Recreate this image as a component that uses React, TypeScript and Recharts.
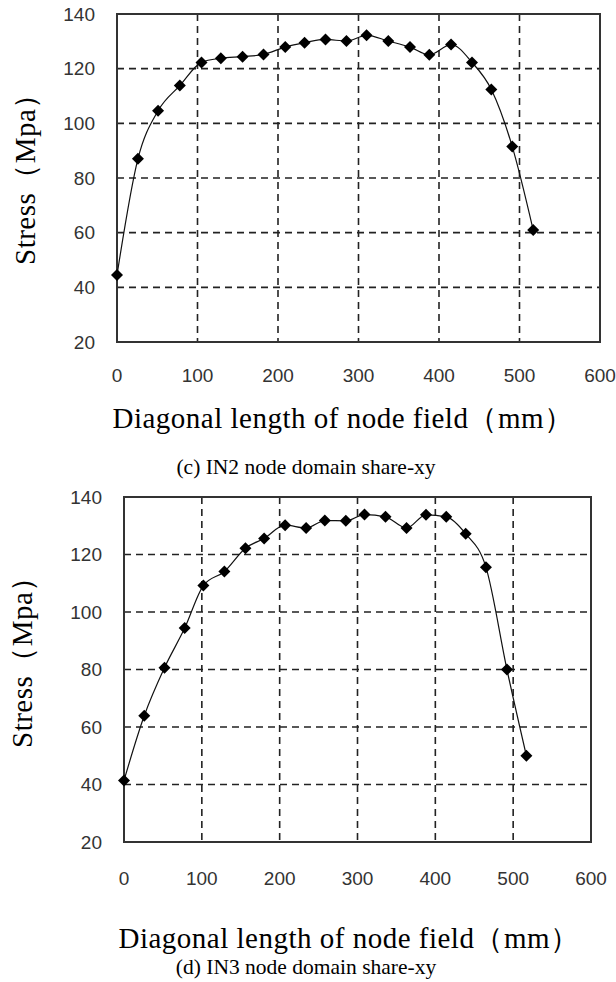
import React from 'react'
import { LineChart, Line, XAxis, YAxis, CartesianGrid, ReferenceArea } from 'recharts'

// diagonal length (mm) and stress (MPa)
const lengthIN2 = [0, 26, 51, 78, 105, 129, 156, 182, 209, 233, 259, 285, 310, 337, 364, 388, 415, 441, 465, 491, 517]
const stressIN2 = [44.5, 87, 104.6, 113.8, 122.3, 123.8, 124.4, 125.2, 127.9, 129.5, 130.7, 130.1, 132.2, 130.1, 127.9, 125.1, 128.8, 122.3, 112.4, 91.5, 61]

const lengthIN3 = [0, 26, 52, 78, 102, 129, 156, 180, 207, 234, 258, 285, 309, 336, 363, 388, 414, 439, 465, 492, 517]
const stressIN3 = [41.4, 63.9, 80.6, 94.4, 109.2, 114.1, 122.2, 125.6, 130.2, 129.2, 131.8, 131.7, 133.9, 133.1, 129.2, 133.8, 133.1, 127.2, 115.6, 80, 50]

const xTicks = [0, 100, 200, 300, 400, 500, 600]
const yTicks = [20, 40, 60, 80, 100, 120, 140]

const xTitle = 'Diagonal length of node field（mm）'
const yTitle = 'Stress（Mpa）'

const serif = '"Liberation Serif", "Times New Roman", serif'
const sans = '"Liberation Sans", Arial, sans-serif'

const toRows = (xs: number[], ys: number[]) => xs.map((x, i) => ({ x, y: ys[i] }))

const Diamond = (props: any) => {
  const { cx, cy, index } = props
  if (cx == null || cy == null) return null
  const r = 6
  return (
    <polygon
      key={`dot-${index}`}
      points={`${cx},${cy - r} ${cx + r},${cy} ${cx},${cy + r} ${cx - r},${cy}`}
      fill="#000"
    />
  )
}

interface PanelProps {
  rows: Array<{ x: number; y: number }>
  height: number
  margin: { top: number; right: number; bottom: number; left: number }
  xTickMargin: number
}

function Panel({ rows, height, margin, xTickMargin }: PanelProps) {
  const tick = { fill: '#333', fontSize: 19, fontFamily: sans }
  return (
    <LineChart width={616} height={height} data={rows} margin={margin}>
      <CartesianGrid stroke="#222" strokeWidth={1.6} strokeDasharray="7 5" />
      <XAxis
        dataKey="x"
        type="number"
        domain={[0, 600]}
        ticks={xTicks}
        height={40}
        tickSize={0}
        tickMargin={xTickMargin}
        axisLine={false}
        tickLine={false}
        tick={tick}
        interval={0}
      />
      <YAxis
        type="number"
        domain={[20, 140]}
        ticks={yTicks}
        width={60}
        tickSize={0}
        tickMargin={22}
        axisLine={false}
        tickLine={false}
        tick={tick}
        interval={0}
      />
      <ReferenceArea x1={0} x2={600} y1={20} y2={140} fill="none" fillOpacity={0} stroke="#333" strokeWidth={2} />
      <Line
        dataKey="y"
        type="monotone"
        stroke="#111"
        strokeWidth={1.2}
        dot={Diamond}
        activeDot={false}
        isAnimationActive={false}
      />
    </LineChart>
  )
}

const Caption = ({ text, cx, cy, size, spacing = 0 }: { text: string; cx: number; cy: number; size: number; spacing?: number }) => (
  <div
    style={{
      position: 'absolute',
      left: cx,
      top: cy,
      transform: 'translate(-50%, -50%)',
      whiteSpace: 'nowrap',
      fontFamily: serif,
      fontSize: size,
      letterSpacing: spacing,
      lineHeight: 1,
      color: '#000',
    }}
  >
    {text}
  </div>
)

const VerticalTitle = ({ cx, cy }: { cx: number; cy: number }) => (
  <div
    style={{
      position: 'absolute',
      left: cx,
      top: cy,
      transform: 'translate(-50%, -50%) rotate(-90deg)',
      whiteSpace: 'nowrap',
      fontFamily: serif,
      fontSize: 29,
      letterSpacing: 0.5,
      lineHeight: 1,
      color: '#000',
    }}
  >
    {yTitle}
  </div>
)

export default function App() {
  return (
    <div style={{ position: 'absolute', left: 0, top: 0, width: 616, height: 982, background: '#fff', overflow: 'hidden' }}>
      <div style={{ position: 'absolute', left: 0, top: 0 }}>
        <Panel
          rows={toRows(lengthIN2, stressIN2)}
          height={400}
          margin={{ top: 14, right: 16, bottom: 18, left: 57 }}
          xTickMargin={27}
        />
      </div>
      <div style={{ position: 'absolute', left: 0, top: 480 }}>
        <Panel
          rows={toRows(lengthIN3, stressIN3)}
          height={420}
          margin={{ top: 17, right: 25, bottom: 18, left: 64 }}
          xTickMargin={30}
        />
      </div>
      <VerticalTitle cx={25} cy={172} />
      <Caption text={xTitle} cx={343} cy={418} size={29} spacing={0.5} />
      <Caption text="(c) IN2 node domain share-xy" cx={306} cy={468} size={21.5} />
      <VerticalTitle cx={22} cy={655} />
      <Caption text={xTitle} cx={349} cy={938} size={29} spacing={0.5} />
      <Caption text="(d) IN3 node domain share-xy" cx={306} cy={968} size={21.5} />
    </div>
  )
}
